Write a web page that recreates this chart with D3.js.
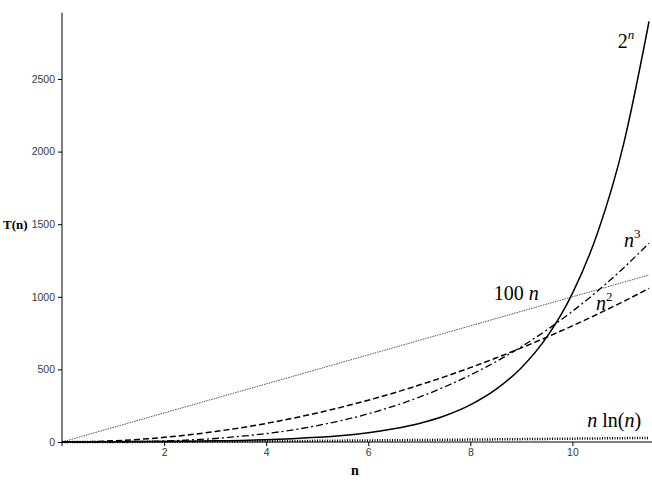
<!DOCTYPE html>
<html>
<head>
<meta charset="utf-8">
<script src="https://cdn.jsdelivr.net/npm/d3@7"></script>
<style>
  html, body { margin: 0; padding: 0; background: #fff; }
  svg { display: block; }
</style>
</head>
<body>
<svg id="chart" width="652" height="486"></svg>
<script>
// ---- data ----
const nValues = [0, 0.5, 1, 1.5, 2, 2.5, 3, 3.5, 4, 4.5, 5, 5.5, 6, 6.5, 7, 7.5, 8, 8.5, 9, 9.5, 10, 10.5, 11, 11.5];
// solid curve "2^n"
const expValues = [1, 1.4, 2, 2.8, 4, 5.7, 8, 11, 16, 23, 32, 45, 64, 91, 128, 181, 256, 362, 512, 724, 1024, 1448, 2048, 2896];
// grey dotted line "100 n"
const linValues = [0, 50, 100, 150, 200, 250, 300, 350, 400, 450, 500, 550, 600, 650, 700, 750, 800, 850, 900, 950, 1000, 1050, 1100, 1150];
// dashed curve "n^2"
const quadValues = [0, 2, 8, 18, 32, 50, 72, 98, 128, 162, 200, 242, 288, 338, 392, 450, 512, 578, 648, 722, 800, 882, 968, 1058];
// dash-dot curve "n^3"
const cubeValues = [0, 0.1, 0.9, 3, 7, 14, 24, 39, 58, 82, 113, 150, 194, 247, 309, 380, 461, 553, 656, 772, 900, 1042, 1198, 1369];
// heavy dotted curve "n ln(n)"
const nlnValues = [0, 0, 0, 0.6, 1.4, 2.3, 3.3, 4.4, 5.5, 6.8, 8.0, 9.4, 10.8, 12.2, 13.6, 15.1, 16.6, 18.2, 19.8, 21.4, 23.0, 24.7, 26.4, 28.1];

const xTickValues = [2, 4, 6, 8, 10];
const xTickLabels = ["2", "4", "6", "8", "10"];
const yTickValues = [0, 500, 1000, 1500, 2000, 2500];
const yTickLabels = ["0", "500", "1000", "1500", "2000", "2500"];
const xMinorTicks = d3.range(0.5, 11.51, 0.5);
const yMinorTicks = d3.range(100, 2901, 100);

// ---- drawing ----
const svg = d3.select("#chart");
const x = d3.scaleLinear().domain([0, 11.5]).range([62, 649]);
const y = d3.scaleLinear().domain([0, 2900]).range([442, 20.9]);

const tickFont = "'Liberation Sans', Arial, sans-serif";
const mathFont = "'Liberation Serif', 'Times New Roman', serif";

// y axis
const yAxisG = svg.append("g").attr("transform", `translate(${x(0)},0)`);
yAxisG.call(d3.axisLeft(y).tickValues(yMinorTicks).tickSize(2).tickFormat(""));
yAxisG.call(d3.axisLeft(y).tickValues(yTickValues).tickSize(4).tickPadding(3)
  .tickFormat((d, i) => yTickLabels[i]));
yAxisG.selectAll(".domain").remove();
yAxisG.append("line").attr("x1", 0).attr("x2", 0)
  .attr("y1", y(2957)).attr("y2", y(0) + 4).attr("stroke", "#000");
yAxisG.selectAll("text").attr("font-family", tickFont).attr("font-size", 10.5)
  .style("fill", "#3a3a3a");
yAxisG.selectAll(".tick line").attr("stroke", "#000");

// x axis
const xAxisG = svg.append("g").attr("transform", `translate(0,${y(0)})`);
xAxisG.call(d3.axisBottom(x).tickValues(xMinorTicks).tickSize(2).tickFormat(""));
xAxisG.call(d3.axisBottom(x).tickValues(xTickValues).tickSize(4).tickPadding(3)
  .tickFormat((d, i) => xTickLabels[i]));
xAxisG.selectAll(".domain").remove();
xAxisG.append("line").attr("x1", x(0)).attr("x2", 652)
  .attr("y1", 0).attr("y2", 0).attr("stroke", "#000");
xAxisG.selectAll("text").attr("font-family", tickFont).attr("font-size", 10.5)
  .style("fill", "#3a3a3a");
xAxisG.selectAll(".tick line").attr("stroke", "#000");

// axis titles
svg.append("text").attr("x", 3).attr("y", y(1500) + 5)
  .attr("font-family", mathFont).attr("font-weight", "bold").attr("font-size", 13)
  .text("T(n)");
svg.append("text").attr("x", 355).attr("y", 475).attr("text-anchor", "middle")
  .attr("font-family", mathFont).attr("font-weight", "bold").attr("font-size", 14)
  .text("n");

// curves
const line = vals => d3.line()
  .x((d, i) => x(nValues[i]))
  .y(d => y(d))
  .curve(d3.curveMonotoneX)(vals);

const plot = svg.append("g").attr("fill", "none");
plot.append("path").attr("d", line(linValues))
  .attr("stroke", "#555").attr("stroke-width", 1).attr("stroke-dasharray", "1.5,1");
plot.append("path").attr("d", line(nlnValues))
  .attr("stroke", "#000").attr("stroke-width", 2.5).attr("stroke-dasharray", "1,1.5");
plot.append("path").attr("d", line(quadValues))
  .attr("stroke", "#000").attr("stroke-width", 1.5).attr("stroke-dasharray", "6,3");
plot.append("path").attr("d", line(cubeValues))
  .attr("stroke", "#000").attr("stroke-width", 1.3).attr("stroke-dasharray", "7,3,2,3");
plot.append("path").attr("d", line(expValues))
  .attr("stroke", "#000").attr("stroke-width", 1.5);

// curve labels
function label(n, v, parts) {
  const t = svg.append("text").attr("x", x(n)).attr("y", y(v))
    .attr("font-family", mathFont).attr("font-size", 20).attr("fill", "#000");
  parts.forEach(p => {
    const ts = t.append("tspan").text(p.t);
    if (p.i) ts.attr("font-style", "italic");
    if (p.sup) ts.attr("font-size", 13).attr("dy", -9);
  });
}
label(10.89, 2713, [{t: "2"}, {t: "n", i: true, sup: true}]);
label(11.01, 1343, [{t: "n", i: true}, {t: "3", sup: true}]);
label(8.46, 978, [{t: "100 "}, {t: "n", i: true}]);
label(10.46, 909, [{t: "n", i: true}, {t: "2", sup: true}]);
label(10.29, 103, [{t: "n", i: true}, {t: " ln("}, {t: "n", i: true}, {t: ")"}]);
</script>
</body>
</html>
